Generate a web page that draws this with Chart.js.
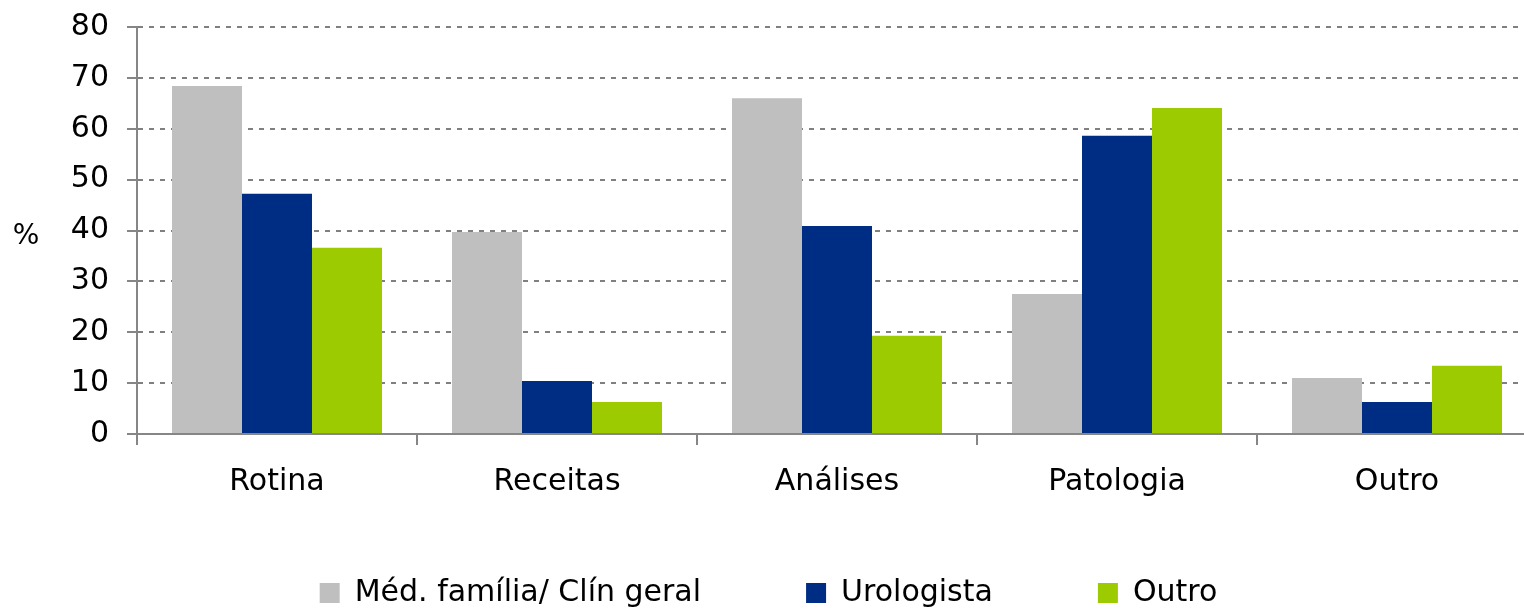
<!DOCTYPE html>
<html>
<head>
<meta charset="utf-8">
<script src="https://cdn.jsdelivr.net/npm/chart.js@4"></script>
<style>
  html, body { margin: 0; padding: 0; background: #fff; overflow: hidden; }
  #wrap { width: 1537px; height: 613px; position: relative; }
</style>
</head>
<body>
<div id="wrap"><canvas id="motivoConsulta"></canvas></div>
<script>
// categorias e valores (%)
const categorias = ['Rotina', 'Receitas', 'Análises', 'Patologia', 'Outro'];
const medFamilia = [68.4, 39.7, 66.0, 27.5, 11.0];
const urologista = [47.2, 10.4, 40.9, 58.6, 6.3];
const outro = [36.6, 6.3, 19.3, 64.1, 13.4];
const yTicks = [0, 10, 20, 30, 40, 50, 60, 70, 80];

const fonte = '"DejaVu Sans", Verdana, sans-serif';
const legendPad = 105;   // espaço horizontal entre itens da legenda
const legendMeio = 593;  // linha central do texto da legenda

// rótulo "%" na horizontal, à esquerda do eixo
const percentLabel = {
    id: 'percentLabel',
    afterDraw(chart) {
        const ctx = chart.ctx;
        const area = chart.chartArea;
        ctx.save();
        ctx.font = '28px ' + fonte;
        ctx.fillStyle = '#000';
        ctx.textAlign = 'center';
        ctx.textBaseline = 'middle';
        ctx.fillText('%', 26, (area.top + area.bottom) / 2 + 6);
        ctx.restore();
    }
};

// o padding da legenda serve só para o espaçamento horizontal:
// a altura da caixa fica pequena e a legenda é reposicionada depois do layout
const legendFix = {
    id: 'legendFix',
    beforeLayout(chart) {
        const lg = chart.legend;
        if (lg && !lg._fixed) {
            const fit = lg.fit;
            lg.fit = function () { fit.call(this); this.height = 40; };
            lg._fixed = true;
        }
    },
    afterLayout(chart) {
        const lg = chart.legend;
        if (!lg) return;
        lg.top = legendMeio - legendPad - 15;
        lg.bottom = lg.top + legendPad + 40;
    }
};

const config = {
    type: 'bar',
    data: {
        labels: categorias,
        datasets: [
            { label: 'Méd. família/ Clín geral', data: medFamilia, backgroundColor: '#BFBFBF' },
            { label: 'Urologista', data: urologista, backgroundColor: '#002D84' },
            { label: 'Outro', data: outro, backgroundColor: '#9BCB00' }
        ]
    },
    options: {
        responsive: true,
        maintainAspectRatio: false,
        animation: false,
        categoryPercentage: 0.75,
        barPercentage: 1.0,
        layout: {
            padding: { left: 0, top: 27, right: 0, bottom: 0 }
        },
        plugins: {
            tooltip: { enabled: false },
            legend: {
                position: 'bottom',
                labels: {
                    boxWidth: 20,
                    boxHeight: 20,
                    padding: legendPad,
                    color: '#000',
                    font: { family: fonte, size: 30 }
                }
            }
        },
        scales: {
            x: {
                afterFit: (scale) => { scale.height = 613 - 40 - 434; },
                grid: {
                    offset: true,
                    drawOnChartArea: false,
                    color: '#868686',
                    tickLength: 11,
                    lineWidth: 2
                },
                border: { color: '#868686', width: 2 },
                ticks: {
                    padding: 19,
                    color: '#000',
                    font: { family: fonte, size: 30 }
                }
            },
            y: {
                min: 0,
                max: 80,
                afterFit: (scale) => {
                    scale.width = 137;
                    scale.paddingTop = 0;
                    scale.paddingBottom = 0;
                },
                afterBuildTicks: (scale) => { scale.ticks = yTicks.map(v => ({ value: v })); },
                grid: {
                    color: '#808080',
                    lineWidth: 2,
                    tickBorderDash: [],
                    tickColor: '#868686',
                    tickLength: 10,
                    tickWidth: 2
                },
                border: { color: '#868686', width: 2, dash: [5, 6] },
                ticks: {
                    padding: 18,
                    color: '#000',
                    font: { family: fonte, size: 30 }
                }
            }
        }
    },
    plugins: [percentLabel, legendFix]
};

const ctx = document.getElementById('motivoConsulta').getContext('2d');
const grafico = new Chart(ctx, config);
</script>
</body>
</html>
